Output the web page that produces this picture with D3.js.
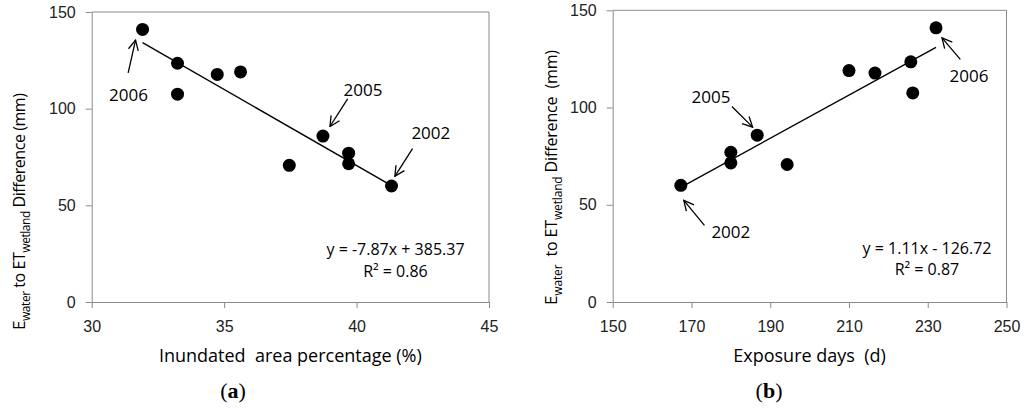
<!DOCTYPE html>
<html>
<head>
<meta charset="utf-8">
<script src="https://cdn.jsdelivr.net/npm/d3@7"></script>
<style>
  body { margin: 0; background: #fff; }
  svg { display: block; font-family: "Open Sans", "Noto Sans", sans-serif; }
  .tick text { font-size: 16px; fill: #222; }
  .axis path, .axis line { stroke: #8a8a8a; }
</style>
</head>
<body>
<div id="svg-container"></div>
<script>
// data
const years = [2006, 2007, 2008, 2009, 2010, 2011, 2005, 2003, 2004, 2002];
const inundatedPct = [31.92, 33.24, 33.24, 34.74, 35.62, 37.46, 38.73, 39.7, 39.7, 41.32];
const exposureDays = [232.1, 225.7, 226.2, 216.6, 210.0, 194.3, 186.7, 180.0, 180.0, 167.3];
const diffMM = [141.0, 123.5, 107.5, 117.7, 119.0, 70.7, 85.8, 77.0, 71.5, 60.0];

const yTicks = [0, 50, 100, 150];
const xTicksA = [30, 35, 40, 45];
const xTicksB = [150, 170, 190, 210, 230, 250];

// fitted lines from the picture
const fitA = { slope: -7.87, intercept: 385.37, eq: "y = -7.87x + 385.37", r2: "R² = 0.86" };
const fitB = { slope: 1.11, intercept: -126.72, eq: "y = 1.11x - 126.72", r2: "R² = 0.87" };

////////////////////////////////////////////////////////////////////
const svg = d3.select("#svg-container").append("svg")
  .attr("width", 1024).attr("height", 409);

svg.append("defs").append("marker")
  .attr("id", "open-arrow")
  .attr("viewBox", "0 0 12 12")
  .attr("refX", 11).attr("refY", 6)
  .attr("markerWidth", 12).attr("markerHeight", 12)
  .attr("markerUnits", "userSpaceOnUse")
  .attr("orient", "auto")
  .append("path")
  .attr("d", "M1,1 L11,6 L1,11")
  .attr("fill", "none").attr("stroke", "#000").attr("stroke-width", 1.3);

// panel layout
const panels = [
  {
    xs: inundatedPct, xDomain: [30, 45], xTicks: xTicksA,
    left: 91.7, right: 489, top: 12, bottom: 302,
    fit: fitA, eqX: 395.5, eqY: 255,
    xTitle: "Inundated  area percentage (%)",
    yLabel: [" to ET", " Difference (mm)"], ySpacing: -0.45,
    yLabelX: 25, yLabelY: 330, letter: "a", letterX: 233,
    notes: [
      { year: 2006, tip: [-7, 10.7], tail: [-14.4, 43.4], text: [-14, 72] },
      { year: 2005, tip: [7, -9.6], tail: [24.7, -37.3], text: [40, -40] },
      { year: 2002, tip: [3.3, -9.6], tail: [21, -37.3], text: [39.3, -47.3] },
    ],
  },
  {
    xs: exposureDays, xDomain: [150, 250], xTicks: xTicksB,
    left: 612.7, right: 1006.5, top: 10.3, bottom: 302,
    fit: fitB, eqX: 927, eqY: 253.5,
    xTitle: "Exposure days  (d)",
    yLabel: ["  to ET", " Difference  (mm)"], ySpacing: -0.15,
    yLabelX: 556.7, yLabelY: 305, letter: "b", letterX: 769,
    notes: [
      { year: 2006, tip: [6, 10], tail: [24.3, 31.6], text: [33, 54] },
      { year: 2005, tip: [-4.6, -8], tail: [-25.3, -28.7], text: [-46.3, -31.7] },
      { year: 2002, tip: [3, 15], tail: [23.6, 40], text: [50, 53] },
    ],
  },
];

panels.forEach((p) => {
  const x = d3.scaleLinear().domain(p.xDomain).range([p.left, p.right]);
  const y = d3.scaleLinear().domain([0, 150]).range([p.bottom, p.top]);
  const g = svg.append("g");

  // frame (top + right)
  g.append("path")
    .attr("d", `M${p.left},${p.top} H${p.right} V${p.bottom}`)
    .attr("fill", "none").attr("stroke", "#8a8a8a");

  // axes
  g.append("g").attr("class", "axis")
    .attr("transform", `translate(0,${p.bottom})`)
    .call(d3.axisBottom(x).tickValues(p.xTicks).tickSize(6).tickSizeOuter(0).tickPadding(13));
  g.append("g").attr("class", "axis")
    .attr("transform", `translate(${p.left},0)`)
    .call(d3.axisLeft(y).tickValues(yTicks).tickSize(6).tickSizeOuter(0).tickPadding(10));

  // trend line over data range
  const [xmin, xmax] = d3.extent(p.xs);
  g.append("line")
    .attr("x1", x(xmin)).attr("y1", y(p.fit.slope * xmin + p.fit.intercept))
    .attr("x2", x(xmax)).attr("y2", y(p.fit.slope * xmax + p.fit.intercept))
    .attr("stroke", "#000").attr("stroke-width", 1.4);

  // points
  g.selectAll("circle")
    .data(diffMM)
    .join("circle")
    .attr("cx", (d, i) => x(p.xs[i]))
    .attr("cy", (d) => y(d))
    .attr("r", 6.5)
    .attr("fill", "#000");

  // year annotations
  p.notes.forEach((n) => {
    const i = years.indexOf(n.year);
    const px = x(p.xs[i]), py = y(diffMM[i]);
    g.append("line")
      .attr("x1", px + n.tail[0]).attr("y1", py + n.tail[1])
      .attr("x2", px + n.tip[0]).attr("y2", py + n.tip[1])
      .attr("stroke", "#000").attr("stroke-width", 1.3)
      .attr("marker-end", "url(#open-arrow)");
    g.append("text")
      .attr("x", px + n.text[0]).attr("y", py + n.text[1])
      .attr("text-anchor", "middle")
      .attr("font-size", 17)
      .text(n.year);
  });

  // equation
  g.append("text").attr("x", p.eqX).attr("y", p.eqY)
    .attr("text-anchor", "middle").attr("font-size", 16).text(p.fit.eq);
  g.append("text").attr("x", p.eqX).attr("y", p.eqY + 21.5)
    .attr("text-anchor", "middle").attr("font-size", 16).text(p.fit.r2);

  // x title
  g.append("text")
    .attr("x", (p.left + p.right) / 2).attr("y", 362)
    .attr("text-anchor", "middle").attr("font-size", 18)
    .attr("xml:space", "preserve")
    .text(p.xTitle);

  // y title with subscripts
  const yt = g.append("text")
    .attr("transform", `translate(${p.yLabelX},${p.yLabelY}) rotate(-90)`)
    .attr("font-size", 16)
    .attr("letter-spacing", p.ySpacing)
    .attr("xml:space", "preserve");
  yt.append("tspan").attr("font-size", 17).text("E");
  yt.append("tspan").attr("font-size", 12).attr("dy", 5).text("water");
  yt.append("tspan").attr("dy", -5).text(p.yLabel[0]);
  yt.append("tspan").attr("font-size", 12).attr("dy", 5).text("wetland");
  yt.append("tspan").attr("dy", -5).text(p.yLabel[1]);

  // panel letter
  const lt = g.append("text")
    .attr("x", p.letterX).attr("y", 398)
    .attr("text-anchor", "middle")
    .attr("font-family", "'Liberation Serif', 'DejaVu Serif', serif")
    .attr("font-size", 22);
  lt.append("tspan").text("(");
  lt.append("tspan").attr("font-weight", "bold").text(p.letter);
  lt.append("tspan").text(")");
});
</script>
</body>
</html>
